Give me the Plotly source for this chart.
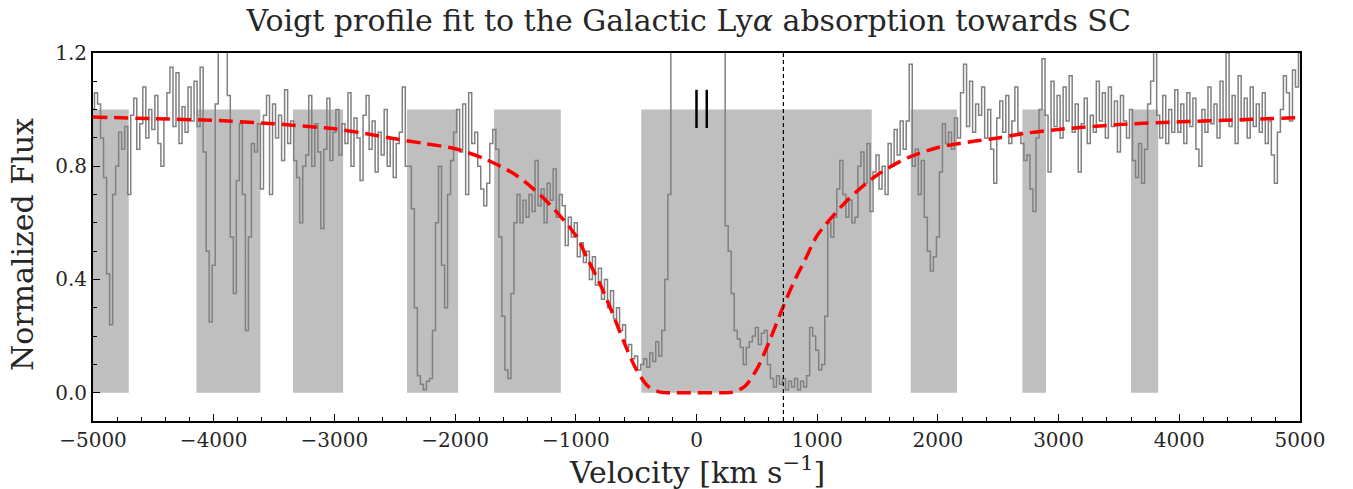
import numpy as np
import plotly.graph_objects as go

# ---- data ----
v_start, v_step = -5000, 25
flux_a = [1.00, 1.06, 1.02, 0.90, 0.76, 0.42, 0.24, 0.70, 0.80, 0.92,
          0.86, 0.94, 0.70, 0.98, 1.04, 0.86, 0.95, 1.08, 0.90, 1.00,
          0.93, 1.05, 0.88, 0.80, 0.97, 1.06, 1.15, 0.94, 1.13, 0.88,
          1.01, 0.92, 1.08, 0.96, 1.10, 0.94, 1.15, 0.85, 0.50, 0.25]
flux_b = [0.45, 1.02, 1.25, 1.30, 1.25, 1.05, 0.55, 0.35, 0.75, 0.95,
          0.70, 0.22, 0.55, 0.88, 0.85, 0.95, 0.72, 0.98, 1.05, 0.70,
          1.02, 0.90, 0.98, 0.82, 1.07, 0.88, 0.96, 0.82, 0.76, 0.60,
          0.80, 0.84, 1.05, 0.80, 0.95, 0.85, 0.58, 0.86, 1.04, 0.82]
flux_c = [0.92, 1.00, 0.84, 0.95, 0.88, 1.06, 0.80, 0.97, 0.90, 0.75,
          0.98, 1.05, 0.86, 0.96, 0.78, 0.92, 0.84, 1.00, 0.80, 0.90,
          0.76, 0.88, 0.92, 1.08, 0.80, 0.80, 0.65, 0.30, 0.06, 0.03,
          0.01, 0.04, 0.05, 0.22, 0.60, 0.80, 0.45, 0.30, 0.70, 0.82]
flux_d = [0.92, 1.00, 0.85, 1.02, 0.70, 1.06, 0.88, 0.92, 0.80, 0.72,
          0.66, 0.74, 0.88, 0.93, 0.86, 0.55, 0.27, 0.08, 0.05, 0.35,
          0.60, 0.70, 0.60, 0.68, 0.62, 0.70, 0.64, 0.82, 0.66, 0.72,
          0.60, 0.74, 0.68, 0.79, 0.62, 0.70, 0.66, 0.52, 0.62, 0.55]
flux_e = [0.60, 0.48, 0.53, 0.46, 0.50, 0.40, 0.48, 0.38, 0.44, 0.33,
          0.40, 0.30, 0.36, 0.26, 0.30, 0.22, 0.24, 0.16, 0.17, 0.12,
          0.13, 0.08, 0.10, 0.12, 0.09, 0.14, 0.11, 0.18, 0.13, 0.22,
          0.40, 0.70, 1.30, 1.50, 1.60, 1.70, 1.75, 1.80, 1.80, 1.80]
flux_f = [1.80, 1.80, 1.80, 1.80, 1.75, 1.70, 1.60, 1.50, 1.40, 1.30,
          0.59, 0.50, 0.35, 0.22, 0.19, 0.16, 0.10, 0.16, 0.18, 0.20,
          0.23, 0.17, 0.21, 0.22, 0.10, 0.05, 0.02, 0.06, 0.03, 0.05,
          0.01, 0.04, 0.02, 0.05, 0.01, 0.04, 0.02, 0.06, 0.23, 0.20]
flux_g = [0.15, 0.08, 0.10, 0.27, 0.60, 0.55, 0.62, 0.72, 0.82, 0.70,
          0.62, 0.68, 0.60, 0.62, 0.80, 0.85, 0.74, 0.88, 0.64, 0.78,
          0.84, 0.72, 0.80, 0.70, 0.88, 0.80, 0.93, 0.84, 0.96, 0.86,
          0.96, 1.16, 0.80, 0.86, 0.70, 0.82, 0.62, 0.50, 0.43, 0.48]
flux_h = [0.55, 0.78, 0.95, 0.88, 0.92, 0.86, 0.97, 0.90, 1.06, 1.16,
          0.94, 1.10, 0.92, 1.02, 0.98, 1.08, 0.90, 1.00, 0.86, 0.74,
          0.97, 1.03, 0.92, 1.05, 0.88, 0.96, 1.08, 0.92, 0.88, 0.82,
          0.84, 0.72, 0.64, 0.90, 1.00, 1.18, 0.98, 0.78, 1.10, 0.94]
flux_i = [1.05, 0.90, 1.08, 0.96, 1.12, 0.92, 1.02, 0.78, 0.95, 1.04,
          0.88, 0.98, 0.92, 1.10, 0.96, 1.06, 0.90, 1.08, 0.94, 1.03,
          0.85, 1.05, 0.96, 0.90, 1.00, 0.82, 0.76, 0.88, 0.74, 0.86,
          1.02, 1.10, 1.22, 0.98, 0.90, 1.05, 0.88, 1.00, 0.92, 1.07]
flux_j = [0.92, 1.02, 0.88, 1.06, 0.94, 1.04, 0.86, 0.80, 1.00, 0.92,
          1.08, 0.95, 1.02, 0.90, 1.10, 0.96, 1.20, 0.94, 1.05, 0.88,
          1.12, 0.96, 1.04, 0.90, 1.08, 0.94, 1.02, 0.92, 1.06, 0.88,
          0.96, 0.84, 0.74, 0.92, 1.00, 1.12, 1.06, 0.96, 1.14, 1.08, 1.20]

flux = (flux_a + flux_b + flux_c + flux_d + flux_e + flux_f + flux_g
        + flux_h + flux_i + flux_j)
velocity = [v_start + v_step * k for k in range(len(flux))]

fit_velocity = [-5000, -4500, -4000, -3500, -3000, -2750, -2500, -2250, -2000,
                -1750, -1500, -1250, -1000, -900, -800, -700, -600, -500, -400,
                -300, -200, 0, 200, 300, 400, 500, 600, 700, 800, 900, 1000,
                1250, 1500, 1750, 2000, 2250, 2500, 2750, 3000, 3500, 4000,
                4500, 5000]
fit_flux = [0.974, 0.968, 0.962, 0.950, 0.932, 0.916, 0.897, 0.880, 0.862,
            0.825, 0.770, 0.680, 0.555, 0.470, 0.385, 0.285, 0.178, 0.083,
            0.022, 0.002, 0.0, 0.0, 0.0, 0.002, 0.022, 0.083, 0.178, 0.285,
            0.385, 0.470, 0.555, 0.680, 0.770, 0.830, 0.866, 0.885, 0.900,
            0.918, 0.930, 0.947, 0.957, 0.964, 0.972]

mask_start = [-5000, -4143, -3343, -2398, -1677, -457, 1775, 2700, 3600]
mask_end = [-4704, -3613, -2928, -1975, -1124, 1452, 2158, 2896, 3825]
mask_top = 1.0

component_v = [0, 85]
component_lo, component_hi = 0.935, 1.07
ref_velocity = 720

FONT = "DejaVu Serif"
TXT = "#262626"

fig = go.Figure()

for s, e in zip(mask_start, mask_end):
    fig.add_shape(type="rect", xref="x", yref="y", x0=s, x1=e, y0=0, y1=mask_top,
                  fillcolor="#bfbfbf", line_width=0, layer="below")

fig.add_trace(go.Scatter(x=velocity, y=flux, mode="lines",
                         line=dict(color="#808080", width=1.5, shape="hvh"),
                         showlegend=False, hoverinfo="skip"))

fig.add_trace(go.Scatter(x=fit_velocity, y=fit_flux, mode="lines",
                         line=dict(color="#ff0000", width=3.5, dash="14px,7px",
                                   shape="spline", smoothing=0.8),
                         showlegend=False))

for cv in component_v:
    fig.add_trace(go.Scatter(x=[cv, cv], y=[component_lo, component_hi], mode="lines",
                             line=dict(color="black", width=2.5),
                             showlegend=False))

fig.add_trace(go.Scatter(x=[ref_velocity, ref_velocity], y=[-0.1, 1.2], mode="lines",
                         line=dict(color="black", width=1.2, dash="4px,3px"),
                         showlegend=False))

fig.update_layout(
    width=1353, height=489,
    margin=dict(l=93, r=53, t=53, b=68),
    paper_bgcolor="white", plot_bgcolor="white",
    font=dict(family=FONT, color=TXT),
    title=dict(text="Voigt profile fit to the Galactic Ly<i>α</i> absorption towards SC",
               x=0.509, xanchor="center", y=0.958, yanchor="middle",
               font=dict(size=30, family=FONT, color=TXT)),
    showlegend=False,
)

fig.update_xaxes(range=[-5000, 5000], tickvals=[-5000, -4000, -3000, -2000, -1000, 0,
                                                 1000, 2000, 3000, 4000, 5000],
                 ticks="inside", ticklen=7, tickwidth=1.2, tickcolor="black",
                 minor=dict(dtick=200, ticks="inside", ticklen=4, tickcolor="black", tickwidth=1),
                 showline=True, linecolor="black", linewidth=2, mirror=True,
                 showgrid=False, zeroline=False,
                 tickfont=dict(size=20, family=FONT, color=TXT))
fig.update_yaxes(range=[-0.1, 1.2], tickvals=[0.0, 0.4, 0.8, 1.2],
                 ticktext=["0.0", "0.4", "0.8", "1.2"],
                 ticks="inside", ticklen=7, tickwidth=1.2, tickcolor="black",
                 minor=dict(dtick=0.1, tick0=0, ticks="inside", ticklen=4, tickcolor="black", tickwidth=1),
                 showline=True, linecolor="black", linewidth=2, mirror=True,
                 showgrid=False, zeroline=False,
                 tickfont=dict(size=20, family=FONT, color=TXT))

fig.add_annotation(text="Velocity [km s<sup>−1</sup>]", xref="paper", yref="paper",
                   x=0.5, y=-0.135, xanchor="center", yanchor="middle", showarrow=False,
                   font=dict(size=30, family=FONT, color=TXT))
fig.add_annotation(text="Normalized Flux", xref="paper", yref="paper",
                   x=-0.0588, y=0.478, xanchor="center", yanchor="middle", showarrow=False,
                   textangle=-90, font=dict(size=30, family=FONT, color=TXT))

fig.write_html("out.html")
